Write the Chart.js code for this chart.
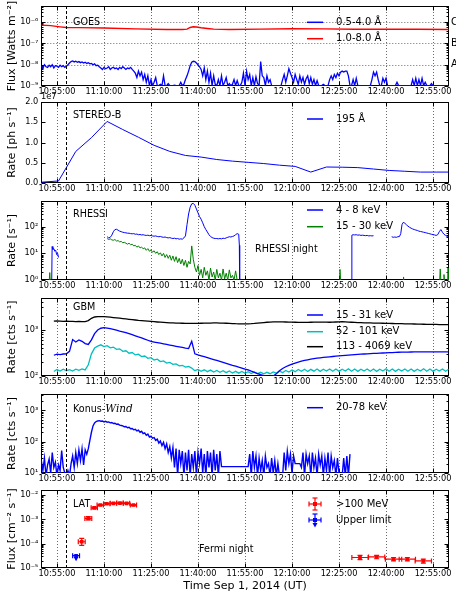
<!DOCTYPE html>
<html><head><meta charset="utf-8">
<script src="https://cdn.jsdelivr.net/npm/chart.js@4/dist/chart.umd.min.js"></script>
<style>
html,body{margin:0;padding:0;background:#fff;}
#wrap{position:relative;width:456px;height:593px;overflow:hidden;background:#fff;}
#wrap canvas{position:absolute;left:0;}
</style></head><body>
<div id="wrap">
<canvas id="pGoes"></canvas><canvas id="pStereo"></canvas><canvas id="pRhessi"></canvas><canvas id="pGbm"></canvas><canvas id="pKonus"></canvas><canvas id="pLat"></canvas>
</div>
<script>
// ---------------- DATA (times in minutes after 10:50:00 UT) ----------------
const timeStart = '10:50:00', timeEnd = '13:00:00', flareTime = '10:58:00';
const timeTicks = ['10:55:00','11:10:00','11:25:00','11:40:00','11:55:00','12:10:00','12:25:00','12:40:00','12:55:00'];

// GOES 1.0-8.0 A
const goesLowT = [0,3,6,8,12,20,30,40,45,46.5,47.5,48.5,49.5,51,53,55,60,70,80,90,100,110,120,130];
const goesLowV = [7.2e-7,6.8e-7,6.0e-7,5.6e-7,5.5e-7,5.3e-7,4.8e-7,4.5e-7,4.5e-7,4.7e-7,5.6e-7,6.0e-7,5.9e-7,5.4e-7,5.0e-7,4.7e-7,4.5e-7,4.7e-7,4.9e-7,4.8e-7,4.6e-7,4.6e-7,4.6e-7,4.5e-7];
// GOES 0.5-4.0 A, every 0.5 min from 0
const goesHighV = [
 9e-9,7e-9,1.0e-8,8e-9,7.5e-9,9.5e-9,8e-9,1.0e-8,7e-9,9e-9,8.5e-9,7.5e-9,9.5e-9,8e-9,9e-9,7.5e-9,
 8.5e-9,1.0e-8,1.2e-8,1.4e-8,
 1.5e-8,1.35e-8,1.45e-8,1.3e-8,1.4e-8,1.25e-8,1.35e-8,1.2e-8,1.3e-8,1.15e-8,1.25e-8,1.1e-8,1.15e-8,1.0e-8,1.1e-8,9e-9,9.5e-9,8e-9,
 7e-9,6e-9,7.5e-9,6.5e-9,7e-9,8e-9,6e-9,7e-9,7.5e-9,6.5e-9,7e-9,6e-9,7.5e-9,6.5e-9,8e-9,7e-9,6e-9,7e-9,6.5e-9,7.5e-9,6e-9,5e-9,
 4e-9,2.5e-9,5e-9,3e-9,4.5e-9,2e-9,3.5e-9,1.5e-9,3e-9,1.05e-9,
 2e-9,1.05e-9,1.5e-9,2.5e-9,1.05e-9,1.05e-9,1.2e-9,1.05e-9,3e-9,1.05e-9,1.05e-9,1.3e-9,1.05e-9,1.05e-9,1.05e-9,1.1e-9,1.05e-9,1.05e-9,1.05e-9,1.5e-9,1.05e-9,1.2e-9,2e-9,3e-9,
 5e-9,9e-9,1.3e-8,1.45e-8,1.4e-8,1.2e-8,1.0e-8,8e-9,
 6e-9,3e-9,7e-9,2e-9,5e-9,1.5e-9,4e-9,1.05e-9,3e-9,1.2e-9,
 1.05e-9,2e-9,1.05e-9,3e-9,1.05e-9,1.5e-9,2.5e-9,1.05e-9,1.3e-9,1.05e-9,
 1.2e-9,2e-9,1.05e-9,1.8e-9,1.05e-9,1.05e-9,1.5e-9,4e-9,1.05e-9,5e-9,
 2e-9,3.5e-9,1.05e-9,2.5e-9,1.05e-9,2.7e-9,1.3e-9,1.05e-9,1.4e-8,3e-9,
 2.5e-9,1.05e-9,3e-9,1.5e-9,2e-9,1.05e-9,1.05e-9,1.05e-9,1.05e-9,1.05e-9,
 1.05e-9,1.05e-9,2e-9,3.5e-9,1.5e-9,3e-9,6.5e-9,4e-9,2.5e-9,1.5e-9,
 3.5e-9,2e-9,1.2e-9,3e-9,1.5e-9,2.5e-9,1.2e-9,2.2e-9,3e-9,1.3e-9,
 2.5e-9,1.2e-9,2e-9,1.05e-9,1.8e-9,1.05e-9,1.05e-9,1.05e-9,1.2e-9,1.05e-9,
 1.05e-9,1.05e-9,2e-9,3e-9,2e-9,3.5e-9,2.5e-9,4e-9,3e-9,4.5e-9,
 5e-9,4.5e-9,5e-9,5e-9,3e-9,1.05e-9,1.05e-9,2e-9,1.05e-9,2.3e-9,
 1.05e-9,1.05e-9,1.05e-9,1.05e-9,1.05e-9,1.05e-9,1.05e-9,1.05e-9,1.05e-9,2e-9,
 4.5e-9,3e-9,4.5e-9,2e-9,1.05e-9,1.05e-9,2.3e-9,1.5e-9,2.3e-9,1.05e-9,
 1.05e-9,1.05e-9,1.05e-9,1.05e-9,1.05e-9,1.5e-9,1.05e-9,1.05e-9,1.05e-9,1.05e-9,
 1.05e-9,1.05e-9,1.05e-9,1.05e-9,1.05e-9,2e-9,1.05e-9,2.3e-9,1.05e-9,2e-9,
 1.05e-9,2.3e-9,1.05e-9,1.5e-9,1.05e-9,1.05e-9,1.05e-9,1.3e-9,1.05e-9,1.05e-9,
 1.05e-9,1.05e-9,1.05e-9,1.05e-9,1.05e-9,1.05e-9,1.05e-9,1.05e-9,1.05e-9];
const goesTicks = [1e-9,1e-8,1e-7,1e-6];
const goesClassLevels = [1e-6,1e-7,1e-8];
const goesClassNames = ['C','B','A'];

// STEREO-B 195 A
const stereoT = [0,5.5,11,16,21,26,31,36,41,46,51,56,61,66,71,76,81,86,91,96,101,106,111,116,121,126,130];
const stereoV = [0.02e7,0.05e7,0.78e7,1.12e7,1.52e7,1.32e7,1.13e7,0.93e7,0.78e7,0.68e7,0.64e7,0.58e7,0.54e7,0.51e7,0.48e7,0.44e7,0.41e7,0.27e7,0.395e7,0.39e7,0.38e7,0.345e7,0.31e7,0.29e7,0.27e7,0.27e7,0.27e7];
const stereoTicks = [0,0.5e7,1.0e7,1.5e7,2.0e7];

// RHESSI 4-8 keV (null = data gap)
const rhessiHiT = [3.3,3.45,3.7,4.0,4.3,4.6,4.9,5.2,5.5,5.6, ...grid(21,0.5,85), 63.2,63.3,63.4, 99.0,99.1, ...grid(99.5,0.5,14), 106.1,
 111.8,112.3,112.8,113.3,113.8,114.3,114.7,115.1,115.5, ...grid(116,0.5,29)];
const rhessiHiV = [0.5,18,14,15,12,13,9,10,7,null,
 42,38,40,48,65,78,80,74,68,65,
 62,60,59,57,57,55,54,55,52,53,
 50,51,49,50,48,47,48,46,47,45,
 44,45,43,42,43,41,40,41,39,38,
 39,37,36,37,35,36,34,35,34,38,
 45,120,300,540,720,750,640,460,330,240,
 190,140,100,78,63,50,43,39,37,36,
 36,35,36,35,37,36,38,40,42,41,
 43,45,50,55,52,
 20,0.5,null,
 0.5,48, 50,49,50,48,49,47,48,47,46,47,45,46,45,46, null,
 42,40,41,40,42,43,55,120,145,
 135,118,105,95,88,82,78,75,72,68,66,64,62,60,58,56,54,52,50,49,47,50,65,78,62,52,47,43,40];
// RHESSI 15-30 keV
const rhessiLoT = [2.4,2.7,3.0,3.1, ...grid(21,0.5,85), 63.1, 95.0,95.3,95.6,95.7, 115.4,115.6,115.8,115.9,
 127.0,127.3,127.6,128.2,128.5,128.8,129.6,129.8,130];
const rhessiLoV = [0.5,1.9,0.5,null,
 36,33,35,32,31,33,29,30,27,28,
 25,26,24,22,24,21,22,19,20,17,
 19,16,17,15,16,13,15,12,13.5,11,
 12.5,10,11.5,9,10.5,8,10,7,9,6.5,
 8.5,5.5,8,5,7.5,4.5,6.5,4,6,3.5,
 5.5,3,5,4,19,6,3,2,3.5,1.5,
 2.5,1.2,3,1.5,2.2,1,2.8,1.3,2,1,
 2.5,1.2,1.8,1,2.6,1.1,1.8,1,2.4,1.2,
 1.5,1,2.2,1,0.5,
 null, 0.5,2.5,0.5,null, 0.5,1.3,0.5,null,
 0.5,2.6,0.5,0.5,1.6,0.5,0.5,2.8,0.5];
const rhessiTicks = [1,10,100];

// Fermi GBM, every 1 min from 4
const gbm15V = [280,295,290,298,300,340,610,540,600,560,
 500,480,600,820,980,1070,1100,1080,1050,1010,
 970,930,895,860,815,775,735,695,660,625,
 590,555,540,525,510,495,480,465,450,437,
 425,412,400,390,560,300,285,272,260,248,
 237,226,216,206,196,187,179,170,163,155,
 148,141,135,127,120,113,107,102,99,98,
 100,112,130,145,158,170,180,190,200,208,
 216,223,230,236,242,247,251,255,259,263,
 267,271,275,279,283,286,290,293,296,298,
 300,303,306,308,311,313,316,318,320,322,
 325,326,327,328,329,330,330,331,330,331,
 330,331,330,331,330,331,330];
const gbm52V = [125,138,128,140,130,137,128,140,132,142,
 135,175,300,400,440,470,430,450,405,420,
 375,385,340,350,310,320,285,295,262,270,
 240,248,222,230,205,212,190,196,178,182,
 166,170,155,160,148,130,138,126,136,124,
 134,122,132,120,130,118,128,116,126,115,
 125,114,124,113,122,112,120,111,120,112,
 122,115,128,118,132,122,135,124,138,126,
 140,125,139,127,141,126,140,128,142,127,
 141,126,140,128,143,127,141,126,140,128,
 142,127,141,126,140,128,143,127,141,126,
 140,128,142,127,141,126,140,128,143,127,
 141,126,140,128,142,127,140];
const gbm113V = [1520,1540,1530,1510,1520,1500,1510,1490,1500,1480,
 1490,1560,1750,1870,1900,1910,1900,1880,1850,1820,
 1790,1760,1730,1700,1670,1640,1610,1580,1560,1540,
 1520,1500,1480,1460,1445,1430,1415,1400,1390,1380,
 1375,1370,1365,1365,1360,1360,1365,1370,1375,1380,
 1385,1390,1390,1385,1380,1370,1360,1350,1340,1335,
 1330,1330,1335,1345,1360,1380,1400,1420,1440,1455,
 1465,1470,1470,1465,1460,1450,1445,1440,1435,1430,
 1430,1435,1440,1445,1450,1455,1450,1445,1440,1450,
 1460,1470,1480,1470,1455,1440,1430,1420,1410,1400,
 1395,1390,1385,1380,1375,1370,1365,1360,1355,1350,
 1345,1340,1335,1330,1325,1320,1315,1310,1305,1300,
 1300,1295,1290,1285,1280,1280,1275];
const gbmTicks = [100,1000];

// Konus-Wind 20-78 keV, every 0.5 min from 0
const konusV = [25,12,30,8,18,28,10,45,15,22,
 8,18,12,52,15,10,8,12,8,20,
 35,15,45,20,55,25,60,18,55,40,
 60,110,200,320,400,440,460,470,450,460,
 430,450,420,430,400,410,380,390,360,365,
 340,330,320,300,305,280,290,260,265,240,
 250,220,235,200,215,180,190,160,175,140,
 150,130,135,110,120,90,105,75,95,60,
 85,45,70,30,65,15,60,8,55,20,
 50,8,45,12,55,8,40,15,50,8,
 45,20,60,10,40,8,50,15,45,8,
 55,12,40,8,50,16,16,16,16,16,
 16,16,16,16,16,16,16,16,16,16,
 16,16,16,40,8,50,15,35,8,30,
 12,25,8,35,15,20,8,30,10,25,
 8,20,8,8,8,45,12,50,20,40,
 10,35,20,20,20,20,15,45,8,40,
 20,35,8,45,15,30,8,40,18,35,
 8,30,12,45,8,35,15,25,8,30,
 10,8,8,30,8,35,8,40];
const konusTicks = [10,100,1000];

// Fermi LAT >100 MeV
const latT = [12.9,15.0,16.9,18.8,20.9,23.0,25.1,27.2,29.4,101.7,107.0,112.4,116.8,121.9];
const latV = [1.2e-4,1.1e-3,3.0e-3,3.9e-3,4.4e-3,4.6e-3,4.7e-3,4.6e-3,3.9e-3,2.7e-5,2.85e-5,2.3e-5,2.3e-5,1.95e-5];
const latXerr = [1.1,1.1,1.0,1.0,1.0,1.0,1.0,1.0,1.0,2.6,2.6,2.6,2.6,2.6];
const latLo = [0.85e-4,0.95e-3,2.8e-3,3.7e-3,4.2e-3,4.4e-3,4.5e-3,4.4e-3,3.7e-3,2.2e-5,2.4e-5,1.95e-5,1.95e-5,1.6e-5];
const latHi = [1.65e-4,1.3e-3,3.2e-3,4.1e-3,4.6e-3,4.8e-3,4.9e-3,4.8e-3,4.1e-3,3.3e-5,3.3e-5,2.7e-5,2.7e-5,2.3e-5];
const ulT = [11.1], ulV = [3.2e-5], ulXerr = [1.1], ulArrowTo = [2.0e-5];
const latTicks = [1e-5,1e-4,1e-3,1e-2];

// ---------------- helpers ----------------
function grid(t0, dt, n){ const a=[]; for(let i=0;i<n;i++) a.push(+(t0+i*dt).toFixed(3)); return a; }
function toMin(s){ const [h,m,sec]=s.split(':').map(Number); return (h*60+m+sec/60) - (10*60+50); }
function pts(T, V){ return T.map((t,i)=>({x:t, y:V[i]})); }
const SUP = {'-':'\u207B','0':'\u2070','1':'\u00B9','2':'\u00B2','3':'\u00B3','4':'\u2074','5':'\u2075','6':'\u2076','7':'\u2077','8':'\u2078','9':'\u2079'};
function pow10Label(v){ const e=Math.round(Math.log10(v)); return '10'+String(e).split('').map(c=>SUP[c]).join(''); }
const FONT = "'DejaVu Sans', sans-serif";
const X0 = toMin(timeStart), X1 = toMin(timeEnd);
const BLUE='#0000ff', RED='#ff0000', GREEN='#008000', CYAN='#00bfbf', BLACK='#000000';

const panels = [
 {id:'pGoes', top:6, bottom:86, padTop:6, axisH:14, title:'Flux [Watts m\u207B\u00B2]',
  y:{type:'logarithmic', min:1e-9, max:5.7e-6, ticks:goesTicks, fmt:'pow'},
  datasets:[
   {data:pts(grid(0,0.5,goesHighV.length), goesHighV), borderColor:BLUE, borderWidth:1.3},
   {data:pts(goesLowT, goesLowV), borderColor:RED, borderWidth:1.4}],
  deco:{label:{text:'GOES', y:22.5}, hgrid:goesClassLevels, classes:true,
   legend:[{y:22.3, color:BLUE, text:'0.5-4.0 \u00C5'},{y:38.7, color:RED, text:'1.0-8.0 \u00C5'}]}},
 {id:'pStereo', top:102, bottom:183, padTop:16, axisH:14, title:'Rate [ph s\u207B\u00B9]',
  y:{type:'linear', min:0, max:2e7, ticks:stereoTicks, fmt:'e7'},
  datasets:[{data:pts(stereoT, stereoV), borderColor:BLUE, borderWidth:1}],
  deco:{label:{text:'STEREO-B', y:115}, offsetText:{text:'1e7', x:41, y:97},
   legend:[{y:119, color:BLUE, text:'195 \u00C5'}]}},
 {id:'pRhessi', top:201, bottom:280, padTop:16, axisH:14, title:'Rate [s\u207B\u00B9]',
  y:{type:'logarithmic', min:1, max:920, ticks:rhessiTicks, fmt:'pow'},
  datasets:[
   {data:pts(rhessiHiT, rhessiHiV), borderColor:BLUE, borderWidth:1},
   {data:pts(rhessiLoT, rhessiLoV), borderColor:GREEN, borderWidth:1}],
  deco:{label:{text:'RHESSI', y:214}, texts:[{text:'RHESSI night', x:255, y:249}],
   legend:[{y:210, color:BLUE, text:'4 - 8 keV'},{y:226.7, color:GREEN, text:'15 - 30 keV'}]}},
 {id:'pGbm', top:298, bottom:376.3, padTop:16, axisH:14, title:'Rate [cts s\u207B\u00B9]',
  y:{type:'logarithmic', min:100, max:4800, ticks:gbmTicks, fmt:'pow'},
  datasets:[
   {data:pts(grid(4,1,gbm15V.length), gbm15V), borderColor:BLUE, borderWidth:1.3},
   {data:pts(grid(4,1,gbm52V.length), gbm52V), borderColor:CYAN, borderWidth:1.3},
   {data:pts(grid(4,1,gbm113V.length), gbm113V), borderColor:BLACK, borderWidth:1.3}],
  deco:{label:{text:'GBM', y:307},
   legend:[{y:315, color:BLUE, text:'15 - 31 keV'},{y:331.7, color:CYAN, text:'52 - 101 keV'},{y:346.7, color:BLACK, text:'113 - 4069 keV'}]}},
 {id:'pKonus', top:394, bottom:473, padTop:16, axisH:14, title:'Rate [cts s\u207B\u00B9]',
  y:{type:'logarithmic', min:10, max:3340, ticks:konusTicks, fmt:'pow'},
  datasets:[{data:pts(grid(0,0.5,konusV.length), konusV), borderColor:BLUE, borderWidth:1.4}],
  deco:{label:{text:'Konus-', italic:'Wind', y:409},
   legend:[{y:407.7, color:BLUE, text:'20-78 keV'}]}},
 {id:'pLat', top:490, bottom:568, padTop:16, axisH:25, title:'Flux [cm\u207B\u00B2 s\u207B\u00B9]', xTitle:'Time Sep 1, 2014 (UT)',
  y:{type:'logarithmic', min:1e-5, max:0.0162, ticks:latTicks, fmt:'pow'},
  datasets:[
   {data:pts(latT, latV), showLine:false, pointStyle:'rect', pointRadius:2.6, backgroundColor:RED, borderColor:RED, borderWidth:0, errX:latXerr, errLo:latLo, errHi:latHi},
   {data:pts(ulT, ulV), showLine:false, pointStyle:'rect', pointRadius:2.6, backgroundColor:BLUE, borderColor:BLUE, borderWidth:0, errX:ulXerr, arrowTo:ulArrowTo}],
  deco:{label:{text:'LAT', y:504}, texts:[{text:'Fermi night', x:199, y:549}],
   legend:[{y:504, color:RED, text:'>100 MeV', marker:'err'},{y:520, color:BLUE, text:'Upper limit', marker:'ul'}]}}
];

function seg(ctx,x1,y1,x2,y2){ ctx.beginPath(); ctx.moveTo(x1,y1); ctx.lineTo(x2,y2); ctx.stroke(); }

function drawErrMarker(ctx, px, py, xl, xr, yl, yh, color, arrowY){
  ctx.strokeStyle=color; ctx.fillStyle=color; ctx.lineWidth=1.2;
  seg(ctx,xl,py,xr,py); seg(ctx,xl,py-2.5,xl,py+2.5); seg(ctx,xr,py-2.5,xr,py+2.5);
  if (yl!=null){ seg(ctx,px,yl,px,yh); seg(ctx,px-2.5,yl,px+2.5,yl); seg(ctx,px-2.5,yh,px+2.5,yh); }
  if (arrowY!=null){ seg(ctx,px,py,px,arrowY-2); ctx.beginPath(); ctx.moveTo(px-2.5,arrowY-4); ctx.lineTo(px+2.5,arrowY-4); ctx.lineTo(px,arrowY+0.5); ctx.closePath(); ctx.fill(); }
}

function makeDeco(p){
  const off = p.top - p.padTop;
  const d = p.deco;
  return {
    id:'deco_'+p.id,
    beforeDatasetsDraw(chart){
      const {ctx, chartArea:a, scales:{x,y}} = chart;
      ctx.save();
      ctx.lineWidth=1; ctx.strokeStyle='#6a6a6a'; ctx.setLineDash([1,2]);
      timeTicks.forEach(l=>{ const px=Math.round(x.getPixelForValue(toMin(l)))+0.5; seg(ctx,px,a.top,px,a.bottom); });
      (d.hgrid||[]).forEach(v=>{ const py=Math.round(y.getPixelForValue(v))+0.5; seg(ctx,a.left,py,a.right,py); });
      ctx.setLineDash([]);
      // frame and inward tick marks
      const L=Math.round(a.left)+0.5, R=Math.round(a.right)-0.5, T=Math.round(a.top)+0.5, B=Math.round(a.bottom)-0.5;
      ctx.strokeStyle='#000'; ctx.lineWidth=1;
      ctx.strokeRect(L,T,R-L,B-T);
      timeTicks.forEach(l=>{ const px=Math.round(x.getPixelForValue(toMin(l)))+0.5; seg(ctx,px,B,px,B-4); seg(ctx,px,T,px,T+4); });
      p.y.ticks.forEach(v=>{ const py=Math.round(y.getPixelForValue(v))+0.5; seg(ctx,L,py,L+4,py); seg(ctx,R,py,R-4,py); });
      if (p.y.type==='logarithmic'){
        const e0=Math.floor(Math.log10(p.y.min)), e1=Math.ceil(Math.log10(p.y.max));
        for(let e=e0;e<=e1;e++) for(let k=2;k<=9;k++){ const v=k*Math.pow(10,e); if(v<=p.y.min||v>=p.y.max) continue;
          const py=Math.round(y.getPixelForValue(v))+0.5; seg(ctx,L,py,L+2,py); seg(ctx,R,py,R-2,py); }
      }
      // error bars
      ctx.beginPath(); ctx.rect(a.left,a.top,a.right-a.left,a.bottom-a.top); ctx.clip();
      chart.data.datasets.forEach(ds=>{
        if(!ds.errX) return;
        ds.data.forEach((pt,i)=>{
          const px=x.getPixelForValue(pt.x), py=y.getPixelForValue(pt.y);
          const xl=x.getPixelForValue(pt.x-ds.errX[i]), xr=x.getPixelForValue(pt.x+ds.errX[i]);
          const yl=ds.errLo? y.getPixelForValue(ds.errLo[i]) : null;
          const yh=ds.errHi? y.getPixelForValue(ds.errHi[i]) : null;
          const ay=ds.arrowTo? y.getPixelForValue(ds.arrowTo[i]) : null;
          drawErrMarker(ctx,px,py,xl,xr,yl,yh,ds.borderColor,ay);
        });
      });
      ctx.restore();
    },
    afterDatasetsDraw(chart){
      const {ctx, chartArea:a, scales:{x,y}} = chart;
      ctx.save();
      // flare onset line
      ctx.strokeStyle='#000'; ctx.lineWidth=1; ctx.setLineDash([3,2]);
      const fx=Math.round(x.getPixelForValue(toMin(flareTime)))+0.5;
      seg(ctx,fx,a.top,fx,a.bottom);
      ctx.setLineDash([]);
      ctx.fillStyle='#000'; ctx.textBaseline='middle'; ctx.textAlign='left';
      // panel label
      ctx.font='9.6px '+FONT;
      ctx.fillText(d.label.text, 73, d.label.y-off);
      if (d.label.italic){ const w=ctx.measureText(d.label.text).width; ctx.font="italic 10.5px 'DejaVu Serif', serif"; ctx.fillText(d.label.italic, 73+w, d.label.y-off); }
      ctx.font='9.6px '+FONT;
      (d.texts||[]).forEach(t=>ctx.fillText(t.text, t.x, t.y-off));
      if (d.offsetText){ ctx.font='8.2px '+FONT; ctx.fillText(d.offsetText.text, d.offsetText.x, d.offsetText.y-off); }
      if (d.classes){ ctx.font='10px '+FONT; goesClassLevels.forEach((v,i)=>ctx.fillText(goesClassNames[i], 451, y.getPixelForValue(v))); }
      // legend
      ctx.font='10px '+FONT;
      (d.legend||[]).forEach(it=>{
        const ly=it.y-off;
        if (it.marker){
          drawErrMarker(ctx,315,ly,309,321, it.marker==='err'? ly-6:null, it.marker==='err'? ly+6:null, it.color, it.marker==='ul'? ly+7:null);
          if (it.marker==='ul'){ ctx.strokeStyle=it.color; seg(ctx,315,ly-6,315,ly); seg(ctx,312.5,ly-6,317.5,ly-6); }
          ctx.fillStyle=it.color; ctx.fillRect(313,ly-2,4,4);
        } else {
          ctx.strokeStyle=it.color; ctx.lineWidth=1.5; seg(ctx,307,ly,323,ly);
        }
        ctx.fillStyle='#000'; ctx.fillText(it.text, 336, ly);
      });
      ctx.restore();
    }
  };
}

panels.forEach(p=>{
  const cv=document.getElementById(p.id);
  const h=Math.round(p.padTop+(p.bottom-p.top)+p.axisH);
  cv.width=456; cv.height=h; cv.style.top=(p.top-p.padTop)+'px';
  new Chart(cv,{
    type:'line',
    data:{datasets:p.datasets},
    options:{
      responsive:false, animation:false, devicePixelRatio:1, events:[],
      layout:{padding:{left:0, right:7.3, top:p.padTop, bottom:0}},
      plugins:{legend:{display:false}, tooltip:{enabled:false}},
      elements:{point:{radius:0}, line:{tension:0, borderWidth:1}},
      scales:{
        x:{type:'linear', min:X0, max:X1, bounds:'data', grid:{display:false, drawTicks:false}, border:{display:false},
          afterBuildTicks:s=>{ s.ticks=timeTicks.map(l=>({value:toMin(l)})); },
          afterFit:s=>{ s.height=p.axisH; s.paddingLeft=0; s.paddingRight=0; },
          ticks:{autoSkip:false, maxRotation:0, minRotation:0, padding:1, color:'#000', font:{family:FONT, size:8.2},
            callback:(v)=>{ const l=timeTicks.find(t=>Math.abs(toMin(t)-v)<1e-6); return l||''; }},
          title: p.xTitle ? {display:true, text:p.xTitle, color:'#000', font:{family:FONT, size:11, lineHeight:1}, padding:{top:0,bottom:1}} : {display:false}},
        y:{type:p.y.type, min:p.y.min, max:p.y.max, bounds:'data', grid:{display:false, drawTicks:false}, border:{display:false},
          afterBuildTicks:s=>{ s.ticks=p.y.ticks.map(v=>({value:v})); },
          afterFit:s=>{ s.width=41.3; s.paddingTop=0; s.paddingBottom=0; },
          ticks:{autoSkip:false, padding:3, color:'#000', font:{family:FONT, size:8.2},
            callback:(v)=> p.y.fmt==='pow' ? pow10Label(v) : (v/1e7).toFixed(1)},
          title:{display:true, text:p.title, color:'#000', font:{family:FONT, size:11}, padding:{top:6,bottom:0}}}
      }
    },
    plugins:[makeDeco(p)]
  });
});
</script>
</body></html>
